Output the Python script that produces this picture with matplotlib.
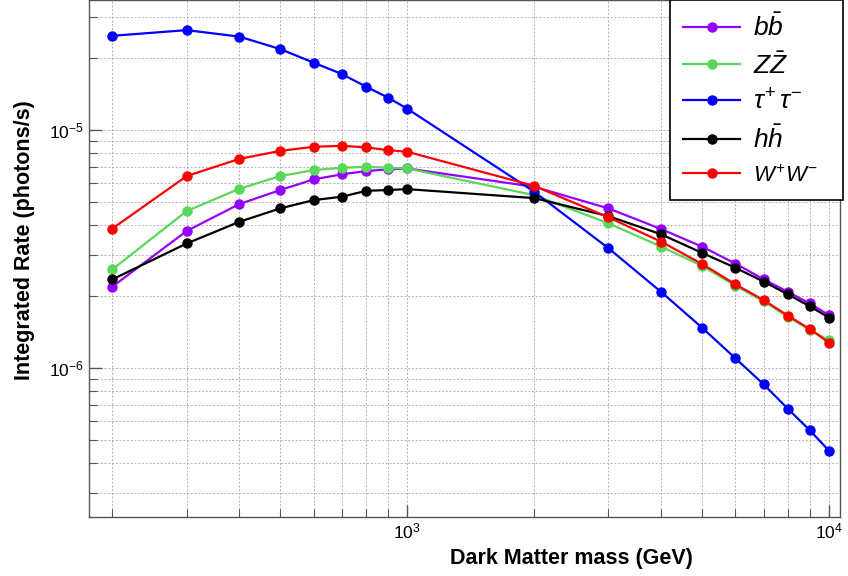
import numpy as np
import matplotlib
matplotlib.use('Agg')
import matplotlib.pyplot as plt
from matplotlib.ticker import LogLocator, NullFormatter

plt.rcParams['font.family'] = ['Liberation Sans', 'DejaVu Sans']
plt.rcParams['mathtext.fontset'] = 'custom'
plt.rcParams['mathtext.rm'] = 'Liberation Sans'
plt.rcParams['mathtext.it'] = 'Liberation Sans:italic'
plt.rcParams['mathtext.bf'] = 'Liberation Sans:bold'

# dark matter masses (GeV)
mass = [200, 300, 400, 500, 600, 700, 800, 900, 1000,
        2000, 3000, 4000, 5000, 6000, 7000, 8000, 9000, 10000]

# integrated rate (photons/s) for each channel
rate_bb = [2.20e-6, 3.77e-6, 4.89e-6, 5.60e-6, 6.21e-6, 6.52e-6, 6.73e-6, 6.84e-6, 6.90e-6,
           5.78e-6, 4.69e-6, 3.84e-6, 3.24e-6, 2.75e-6, 2.36e-6, 2.09e-6, 1.87e-6, 1.67e-6]
rate_zz = [2.60e-6, 4.57e-6, 5.67e-6, 6.41e-6, 6.79e-6, 6.95e-6, 7.01e-6, 6.95e-6, 6.90e-6,
           5.33e-6, 4.06e-6, 3.24e-6, 2.69e-6, 2.22e-6, 1.91e-6, 1.64e-6, 1.45e-6, 1.31e-6]
rate_tautau = [2.49e-5, 2.63e-5, 2.47e-5, 2.19e-5, 1.92e-5, 1.72e-5, 1.52e-5, 1.37e-5, 1.23e-5,
               5.51e-6, 3.19e-6, 2.09e-6, 1.48e-6, 1.10e-6, 8.55e-7, 6.73e-7, 5.49e-7, 4.50e-7]
rate_hh = [2.36e-6, 3.34e-6, 4.12e-6, 4.69e-6, 5.08e-6, 5.25e-6, 5.56e-6, 5.60e-6, 5.65e-6,
           5.18e-6, 4.35e-6, 3.65e-6, 3.05e-6, 2.64e-6, 2.31e-6, 2.04e-6, 1.82e-6, 1.63e-6]
rate_ww = [3.86e-6, 6.41e-6, 7.57e-6, 8.18e-6, 8.51e-6, 8.59e-6, 8.46e-6, 8.24e-6, 8.11e-6,
           5.83e-6, 4.30e-6, 3.40e-6, 2.74e-6, 2.25e-6, 1.93e-6, 1.66e-6, 1.46e-6, 1.28e-6]

channels = [
    (rate_bb, '#9400ff', r'$b\bar{b}$'),
    (rate_zz, '#5ad65a', r'$Z\bar{Z}$'),
    (rate_tautau, '#0000ff', r'$\tau^{+}\,\tau^{-}$'),
    (rate_hh, '#000000', r'$h\bar{h}$'),
    (rate_ww, '#ff0000', r'$W^{+}W^{-}$'),
]

fig = plt.figure(figsize=(8.48, 5.76), dpi=100)
ax = fig.add_axes([89/848, 59/576, 751/848, 517/576])

for y, c, lab in channels:
    ax.plot(mass, y, '-o', color=c, lw=1.6, ms=6.5, label=lab)

ax.set_xscale('log')
ax.set_yscale('log')
ax.set_xlim(176, 10620)
ax.set_ylim(2.37e-7, 3.52e-5)

# ROOT-like ticks and grid
for axis in (ax.xaxis, ax.yaxis):
    axis.set_major_locator(LogLocator(base=10))
    axis.set_minor_locator(LogLocator(base=10, subs=np.arange(2, 10)))
    axis.set_minor_formatter(NullFormatter())
ax.tick_params(which='both', direction='in', top=False, right=False,
               color='#555555', labelsize=12.5)
ax.tick_params(which='major', length=9, width=1.0)
ax.tick_params(which='minor', length=6, width=0.8)
ax.grid(True, which='both', color='#aaaaaa', ls=(0, (2.5, 2)), lw=0.6)
ax.set_axisbelow(True)
for s in ax.spines.values():
    s.set_color('#555555')
    s.set_linewidth(1.0)

ax.set_xlabel('Dark Matter mass (GeV)', fontsize=15.5, fontweight='bold')
ax.xaxis.set_label_coords(0.642, -0.060)
ax.set_ylabel('Integrated Rate (photons/s)', fontsize=15.5, fontweight='bold')
ax.yaxis.set_label_coords(-0.072, 0.536)

# legend box spans a fixed width like the ROOT TLegend
leg = ax.legend(loc='upper left', bbox_to_anchor=(670/848, 0, 173/848, 1.0),
                bbox_transform=fig.transFigure, mode='expand', fontsize=19,
                fancybox=False, edgecolor='black', framealpha=1,
                handlelength=2.15, labelspacing=0.4, borderpad=0.5,
                handletextpad=0.5, borderaxespad=0)
leg.get_frame().set_linewidth(1.2)
leg.get_texts()[4].set_fontsize(16)

fig.savefig('out.png', dpi=100)
